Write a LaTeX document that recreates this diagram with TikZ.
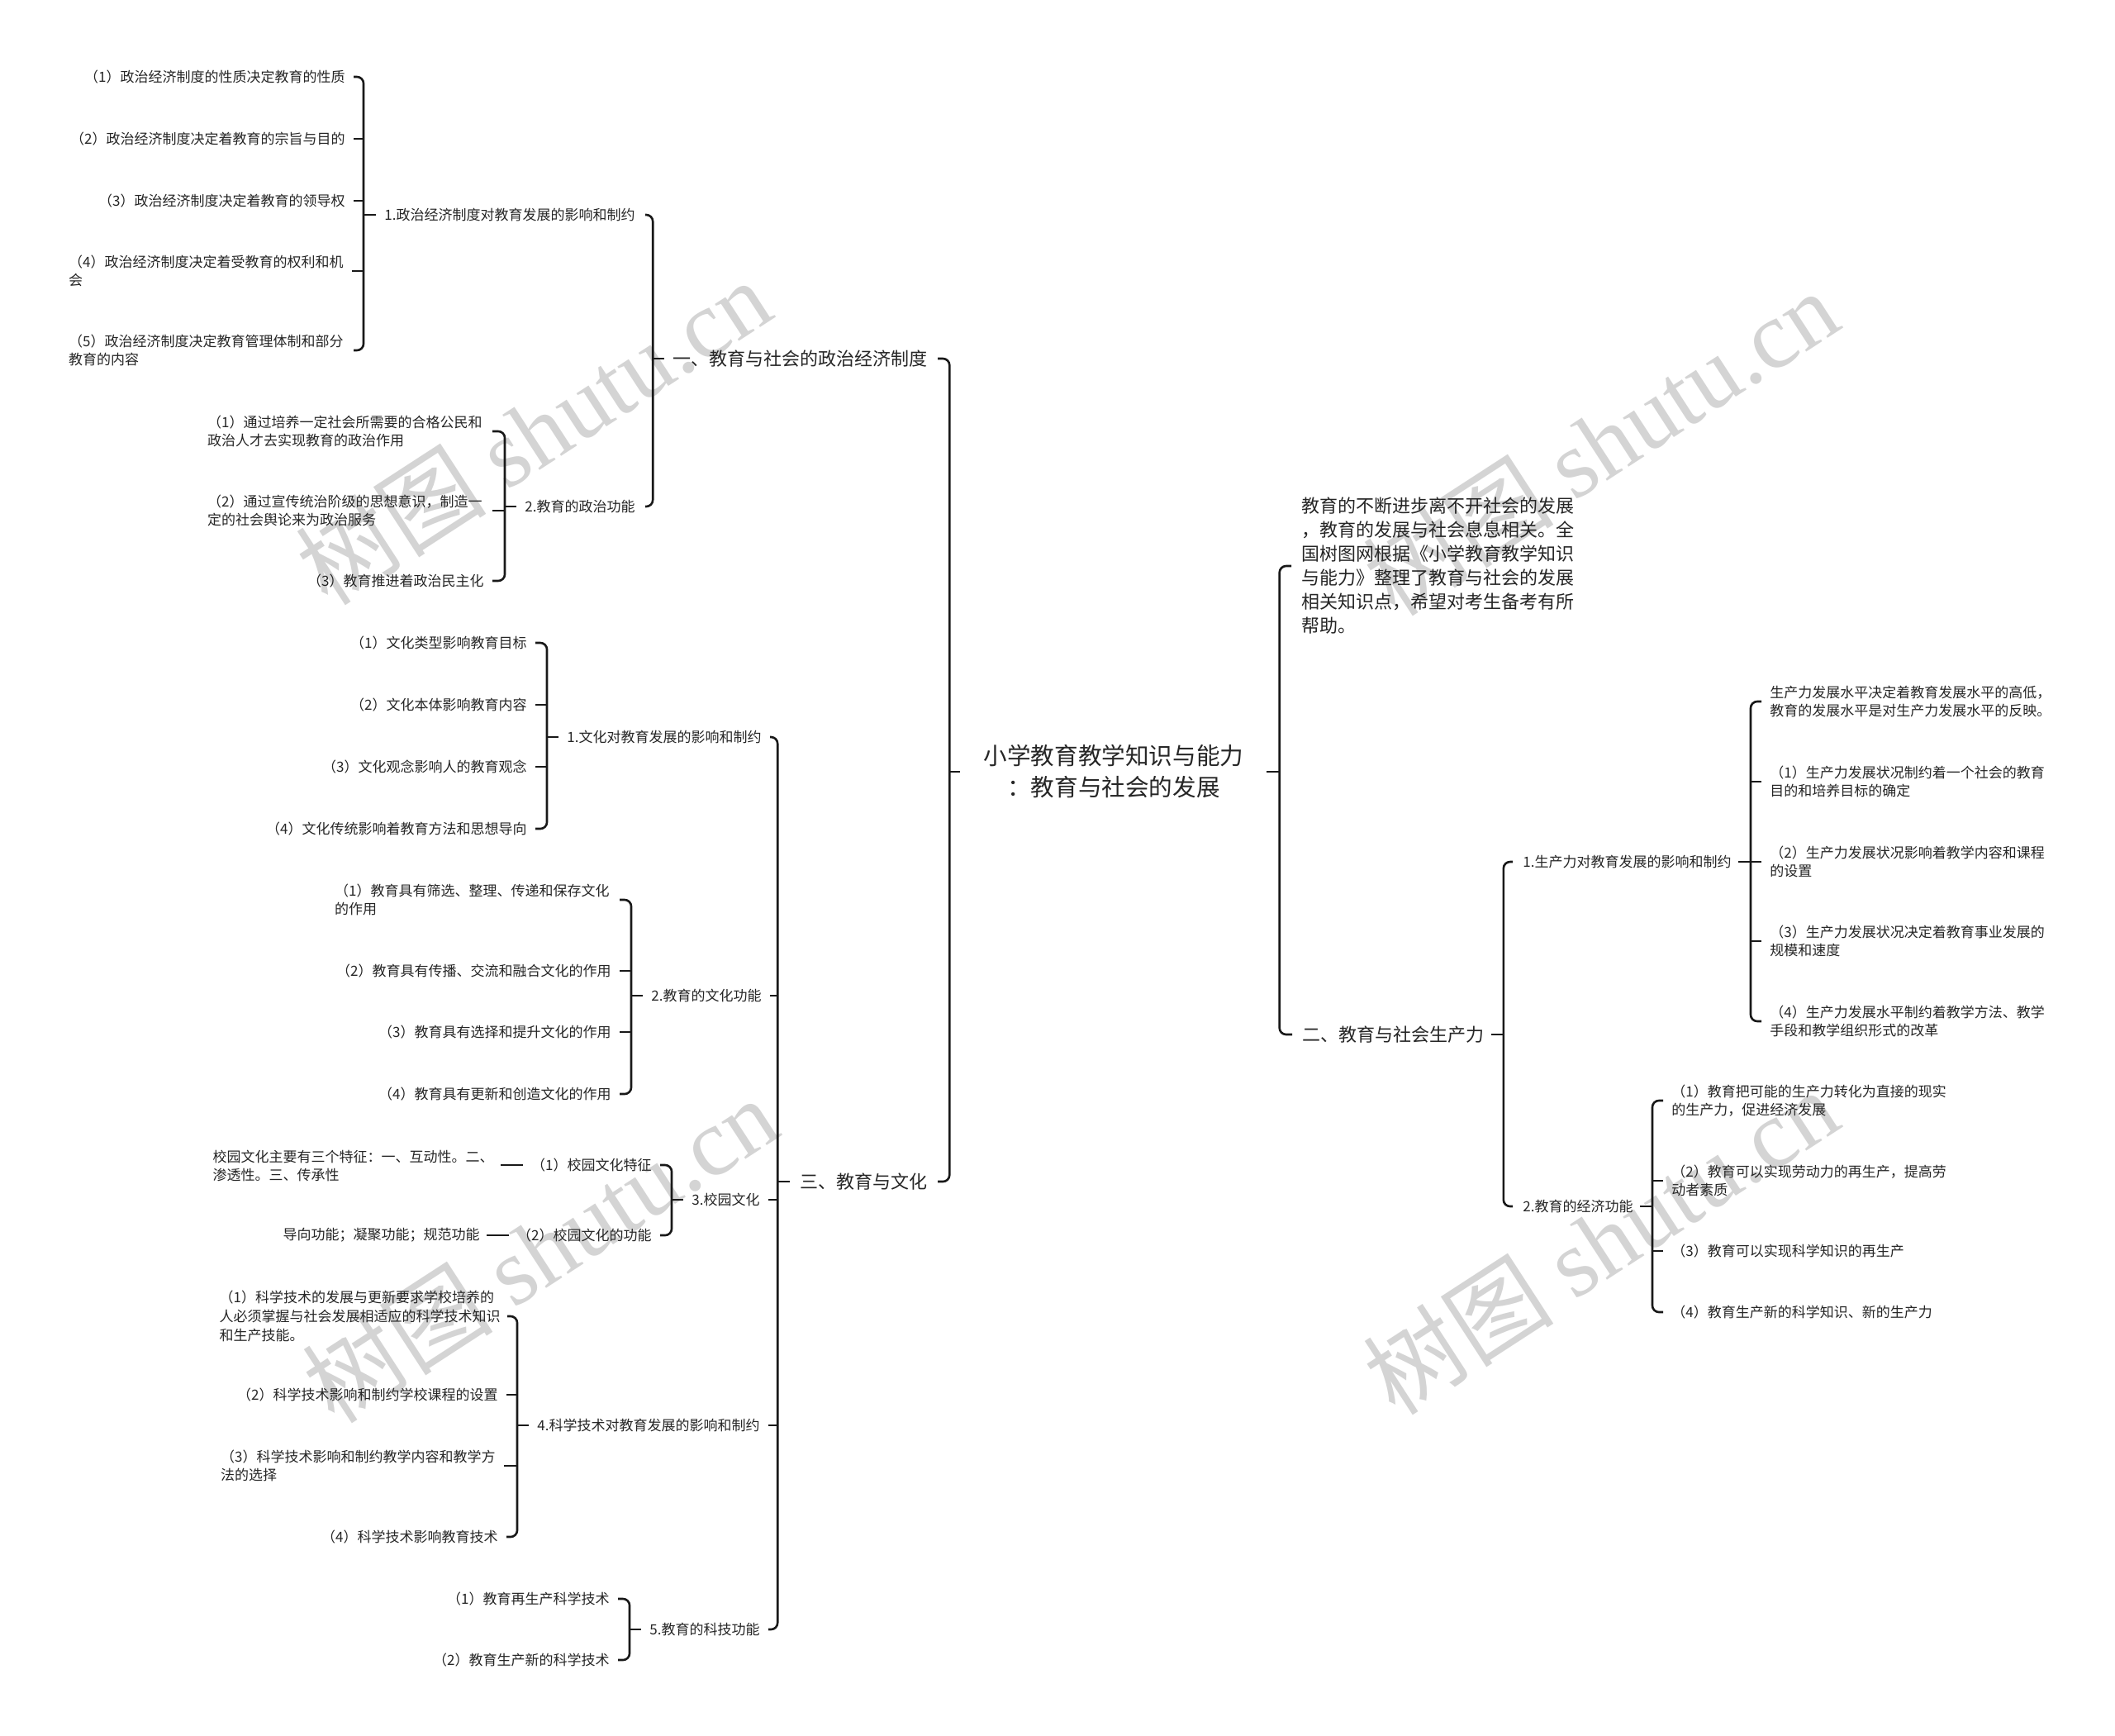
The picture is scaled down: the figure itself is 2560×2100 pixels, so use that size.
\documentclass[tikz,border=0pt]{standalone}
\usepackage{fontspec}
\setmainfont{Noto Sans CJK SC}
\newfontfamily\wmfont{Liberation Serif}
\usetikzlibrary{calc}
\begin{document}
\begin{tikzpicture}[x=0.5pt,y=-0.5pt,
  every node/.style={inner sep=0pt, text=black!85},
  sm/.style={font=\fontsize{8.5pt}{11.3pt}\selectfont, align=left},
  md/.style={font=\fontsize{11pt}{14.5pt}\selectfont, align=left},
  rt/.style={font=\fontsize{14.3pt}{19pt}\selectfont, align=center},
  conn/.style={draw=black!90, line width=1.3pt, rounded corners=4pt},
  wm/.style={text=black!17, rotate=33, font=\fontsize{58pt}{62pt}\selectfont}
]
\fill[white] (0,0) rectangle (2560,2100);
\useasboundingbox (0,0) rectangle (2560,2100);

% watermarks
\node[wm] (wm1) at (645,522) {树图 {\wmfont shutu.cn}};
\node[wm] (wm2) at (1937,535) {树图 {\wmfont shutu.cn}};
\node[wm] (wm3) at (653,1512) {树图 {\wmfont shutu.cn}};
\node[wm] (wm4) at (1937,1502) {树图 {\wmfont shutu.cn}};

% root
\node[rt] (root) at (1348,934) {小学教育教学知识与能力\\：教育与社会的发展};

% level 1
\node[md, anchor=east] (A) at (1123,434) {一、教育与社会的政治经济制度};
\node[md, anchor=east] (B) at (1123,1430) {三、教育与文化};
\node[md, anchor=west] (P) at (1575,685) {教育的不断进步离不开社会的发展\\，教育的发展与社会息息相关。全\\国树图网根据《小学教育教学知识\\与能力》整理了教育与社会的发展\\相关知识点，希望对考生备考有所\\帮助。};
\node[md, anchor=west] (C) at (1576,1252) {二、教育与社会生产力};

% group A
\node[sm, anchor=east] (A1) at (769,260) {1.政治经济制度对教育发展的影响和制约};
\node[sm, anchor=east] (A2) at (769,613) {2.教育的政治功能};
\node[sm, anchor=east] (a11) at (418,93) {（1）政治经济制度的性质决定教育的性质};
\node[sm, anchor=east] (a12) at (418,168) {（2）政治经济制度决定着教育的宗旨与目的};
\node[sm, anchor=east] (a13) at (418,243) {（3）政治经济制度决定着教育的领导权};
\node[sm, anchor=east] (a14) at (416,328) {（4）政治经济制度决定着受教育的权利和机\\会};
\node[sm, anchor=east] (a15) at (416,424) {（5）政治经济制度决定教育管理体制和部分\\教育的内容};
\node[sm, anchor=east] (a21) at (584,522) {（1）通过培养一定社会所需要的合格公民和\\政治人才去实现教育的政治作用};
\node[sm, anchor=east] (a22) at (584,618) {（2）通过宣传统治阶级的思想意识，制造一\\定的社会舆论来为政治服务};
\node[sm, anchor=east] (a23) at (586,703) {（3）教育推进着政治民主化};

% group B
\node[sm, anchor=east] (B1) at (922,892) {1.文化对教育发展的影响和制约};
\node[sm, anchor=east] (B2) at (922,1205) {2.教育的文化功能};
\node[sm, anchor=east] (B3) at (920,1452) {3.校园文化};
\node[sm, anchor=east] (B4) at (920,1725) {4.科学技术对教育发展的影响和制约};
\node[sm, anchor=east] (B5) at (920,1972) {5.教育的科技功能};
\node[sm, anchor=east] (b11) at (638,778) {（1）文化类型影响教育目标};
\node[sm, anchor=east] (b12) at (638,853) {（2）文化本体影响教育内容};
\node[sm, anchor=east] (b13) at (638,928) {（3）文化观念影响人的教育观念};
\node[sm, anchor=east] (b14) at (638,1003) {（4）文化传统影响着教育方法和思想导向};
\node[sm, anchor=east] (b21) at (738,1089) {（1）教育具有筛选、整理、传递和保存文化\\的作用};
\node[sm, anchor=east] (b22) at (740,1175) {（2）教育具有传播、交流和融合文化的作用};
\node[sm, anchor=east] (b23) at (740,1249) {（3）教育具有选择和提升文化的作用};
\node[sm, anchor=east] (b24) at (740,1324) {（4）教育具有更新和创造文化的作用};
\node[sm, anchor=east] (b31) at (789,1410) {（1）校园文化特征};
\node[sm, anchor=east] (b32) at (789,1495) {（2）校园文化的功能};
\node[sm, anchor=east] (c311) at (598,1411) {校园文化主要有三个特征：一、互动性。二、\\渗透性。三、传承性};
\node[sm, anchor=east] (c321) at (581,1495) {导向功能；凝聚功能；规范功能};
\node[sm, anchor=east] (b41) at (606,1593) {（1）科学技术的发展与更新要求学校培养的\\人必须掌握与社会发展相适应的科学技术知识\\和生产技能。};
\node[sm, anchor=east] (b42) at (603,1688) {（2）科学技术影响和制约学校课程的设置};
\node[sm, anchor=east] (b43) at (600,1774) {（3）科学技术影响和制约教学内容和教学方\\法的选择};
\node[sm, anchor=east] (b44) at (603,1860) {（4）科学技术影响教育技术};
\node[sm, anchor=east] (b51) at (738,1935) {（1）教育再生产科学技术};
\node[sm, anchor=east] (b52) at (738,2009) {（2）教育生产新的科学技术};

% group C
\node[sm, anchor=west] (C1) at (1843,1043) {1.生产力对教育发展的影响和制约};
\node[sm, anchor=west] (C2) at (1843,1460) {2.教育的经济功能};
\node[sm, anchor=west] (c11) at (2142,849) {生产力发展水平决定着教育发展水平的高低，\\教育的发展水平是对生产力发展水平的反映。};
\node[sm, anchor=west] (c12) at (2142,946) {（1）生产力发展状况制约着一个社会的教育\\目的和培养目标的确定};
\node[sm, anchor=west] (c13) at (2142,1043) {（2）生产力发展状况影响着教学内容和课程\\的设置};
\node[sm, anchor=west] (c14) at (2142,1139) {（3）生产力发展状况决定着教育事业发展的\\规模和速度};
\node[sm, anchor=west] (c15) at (2142,1236) {（4）生产力发展水平制约着教学方法、教学\\手段和教学组织形式的改革};
\node[sm, anchor=west] (c21) at (2023,1332) {（1）教育把可能的生产力转化为直接的现实\\的生产力，促进经济发展};
\node[sm, anchor=west] (c22) at (2023,1429) {（2）教育可以实现劳动力的再生产，提高劳\\动者素质};
\node[sm, anchor=west] (c23) at (2023,1514) {（3）教育可以实现科学知识的再生产};
\node[sm, anchor=west] (c24) at (2023,1588) {（4）教育生产新的科学知识、新的生产力};

% ---------- connectors ----------
% root left
\coordinate (rootL) at ($(root.west)+(-41,0)$);
\draw[conn] ($(A.east)+(12,0)$) -| (rootL) |- ($(B.east)+(12,0)$);
\draw[conn] (rootL) -- ($(root.west)+(-28,0)$);
% root right
\coordinate (rootR) at ($(root.east)+(43,0)$);
\draw[conn] ($(P.west)+(-12,0)$) -| (rootR) |- ($(C.west)+(-12,0)$);
\draw[conn] (rootR) -- ($(root.east)+(27,0)$);

% A
\coordinate (bA) at ($(A.west)+(-24,0)$);
\draw[conn] ($(A1.east)+(12,0)$) -| (bA) |- ($(A2.east)+(12,0)$);
\draw[conn] (bA) -- ($(A.west)+(-10,0)$);
% A1
\coordinate (bA1) at ($(A1.west)+(-25,0)$);
\draw[conn] ($(a11.east)+(10,0)$) -| (bA1) |- ($(a15.east)+(12,0)$);
\foreach \k in {a12,a13,a14} \draw[conn] ($(\k.east)+(10,0)$) -- (\k.east -| bA1);
\draw[conn] (bA1) -- ($(A1.west)+(-10,0)$);
% A2
\coordinate (bA2) at ($(A2.west)+(-24,0)$);
\draw[conn] ($(a21.east)+(12,0)$) -| (bA2) |- ($(a23.east)+(10,0)$);
\draw[conn] ($(a22.east)+(12,0)$) -- (a22.east -| bA2);
\draw[conn] (bA2) -- ($(A2.west)+(-10,0)$);

% B
\coordinate (bB) at ($(B.west)+(-27,0)$);
\draw[conn] ($(B1.east)+(10,0)$) -| (bB) |- ($(B5.east)+(10,0)$);
\foreach \k in {B2,B3,B4} \draw[conn] ($(\k.east)+(10,0)$) -- (\k.east -| bB);
\draw[conn] (bB) -- ($(B.west)+(-12,0)$);
% B1
\coordinate (bB1) at ($(B1.west)+(-24,0)$);
\draw[conn] ($(b11.east)+(10,0)$) -| (bB1) |- ($(b14.east)+(10,0)$);
\foreach \k in {b12,b13} \draw[conn] ($(\k.east)+(10,0)$) -- (\k.east -| bB1);
\draw[conn] (bB1) -- ($(B1.west)+(-10,0)$);
% B2
\coordinate (bB2) at ($(B2.west)+(-24,0)$);
\draw[conn] ($(b21.east)+(12,0)$) -| (bB2) |- ($(b24.east)+(10,0)$);
\foreach \k in {b22,b23} \draw[conn] ($(\k.east)+(10,0)$) -- (\k.east -| bB2);
\draw[conn] (bB2) -- ($(B2.west)+(-10,0)$);
% B3
\coordinate (bB3) at ($(B3.west)+(-24,0)$);
\draw[conn] ($(b31.east)+(10,0)$) -| (bB3) |- ($(b32.east)+(10,0)$);
\draw[conn] (bB3) -- ($(B3.west)+(-10,0)$);
\draw[conn] ($(b31.west)+(-10,0)$) -- ($(b31.west -| c311.east)+(8,0)$);
\draw[conn] ($(b32.west)+(-10,0)$) -- ($(b32.west -| c321.east)+(8,0)$);
% B4
\coordinate (bB4) at ($(B4.west)+(-24,0)$);
\draw[conn] ($(b41.east)+(8,0)$) -| (bB4) |- ($(b44.east)+(10,0)$);
\foreach \k in {b42,b43} \draw[conn] ($(\k.east)+(10,0)$) -- (\k.east -| bB4);
\draw[conn] (bB4) -- ($(B4.west)+(-10,0)$);
% B5
\coordinate (bB5) at ($(B5.west)+(-24,0)$);
\draw[conn] ($(b51.east)+(10,0)$) -| (bB5) |- ($(b52.east)+(10,0)$);
\draw[conn] (bB5) -- ($(B5.west)+(-10,0)$);

% C
\coordinate (bC) at ($(C.east)+(23,0)$);
\draw[conn] ($(C1.west)+(-12,0)$) -| (bC) |- ($(C2.west)+(-12,0)$);
\draw[conn] (bC) -- ($(C.east)+(8,0)$);
% C1
\coordinate (bC1) at ($(C1.east)+(23,0)$);
\draw[conn] ($(c11.west)+(-10,0)$) -| (bC1) |- ($(c15.west)+(-10,0)$);
\foreach \k in {c12,c13,c14} \draw[conn] ($(\k.west)+(-10,0)$) -- (\k.west -| bC1);
\draw[conn] (bC1) -- ($(C1.east)+(8,0)$);
% C2
\coordinate (bC2) at ($(C2.east)+(23,0)$);
\draw[conn] ($(c21.west)+(-10,0)$) -| (bC2) |- ($(c24.west)+(-10,0)$);
\foreach \k in {c22,c23} \draw[conn] ($(\k.west)+(-10,0)$) -- (\k.west -| bC2);
\draw[conn] (bC2) -- ($(C2.east)+(8,0)$);
\end{tikzpicture}
\end{document}
